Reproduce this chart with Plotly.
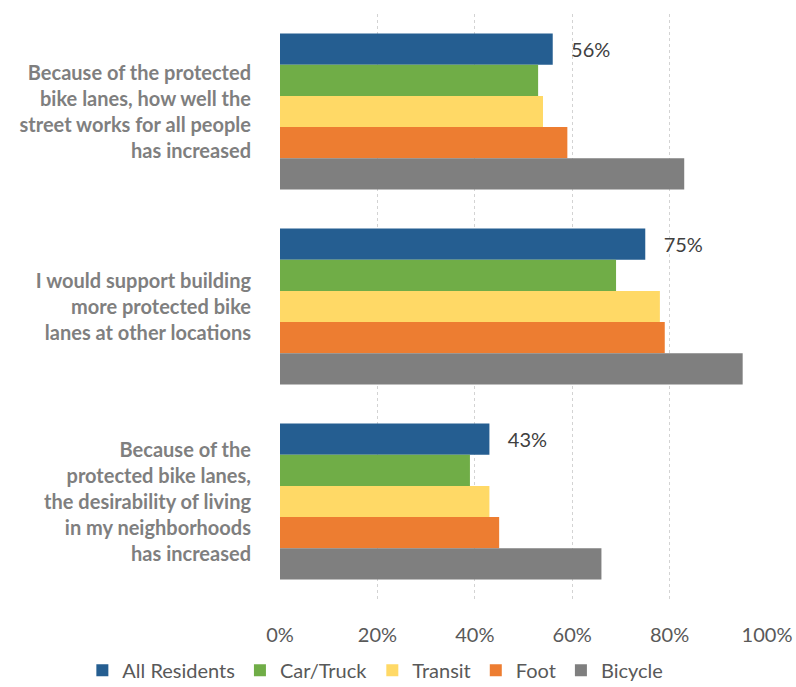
import plotly.graph_objects as go

categories = [
    "Because of the protected<br>bike lanes, how well the<br>street works for all people<br>has increased",
    "I would support building<br>more protected bike<br>lanes at other locations",
    "Because of the<br>protected bike lanes,<br>the desirability of living<br>in my neighborhoods<br>has increased",
]
series_names = ["All Residents", "Car/Truck", "Transit", "Foot", "Bicycle"]
all_residents = [56, 75, 43]
car_truck = [53, 69, 39]
transit = [54, 78, 43]
foot = [59, 79, 45]
bicycle = [83, 95, 66]
tick_vals = [0, 20, 40, 60, 80, 100]
tick_text = ["0%", "20%", "40%", "60%", "80%", "100%"]

colors = ["#255e91", "#70ad47", "#ffd966", "#ed7d31", "#7f7f7f"]
series = [all_residents, car_truck, transit, foot, bicycle]

fig = go.Figure()
for i, (name, vals) in enumerate(zip(series_names, series)):
    kw = {}
    if i == 0:
        kw = dict(text=[f"   {v}%" for v in vals], textposition="outside",
                  textfont=dict(family="Lato", size=20, color="#404040"),
                  cliponaxis=False)
    fig.add_trace(go.Bar(
        y=categories, x=vals, name=name, orientation="h",
        marker=dict(color=colors[i], line=dict(width=0)), **kw))

fig.update_layout(
    width=796, height=687,
    margin=dict(l=280, r=28, t=14, b=88, autoexpand=False),
    paper_bgcolor="white", plot_bgcolor="white",
    barmode="group", bargap=0.2, bargroupgap=0,
    font=dict(family="Lato", color="#595959"),
    showlegend=True,
    legend=dict(orientation="h", xref="paper", yref="paper",
                x=-0.405, xanchor="left", y=-0.122, yanchor="middle",
                font=dict(size=20, color="#595959"),
                traceorder="normal"),
    uniformtext=dict(mode=False),
)
fig.update_xaxes(range=[0, 100.2], tickvals=tick_vals, ticktext=tick_text,
                 showgrid=True, gridcolor="#d3d3d3", griddash="dot", gridwidth=1,
                 zeroline=False, showline=False, automargin=False,
                 tickfont=dict(size=20, color="#595959"), ticklabelstandoff=22)
fig.update_yaxes(autorange="reversed", showgrid=False, showline=False, automargin=False,
                 tickfont=dict(size=20, color="#7f7f7f", family="Lato", weight="bold"),
                 ticklabelstandoff=28)

fig.write_html("out.html", config={"displayModeBar": False},
               post_script="document.body.style.margin='0px';document.body.style.overflow='hidden';")
